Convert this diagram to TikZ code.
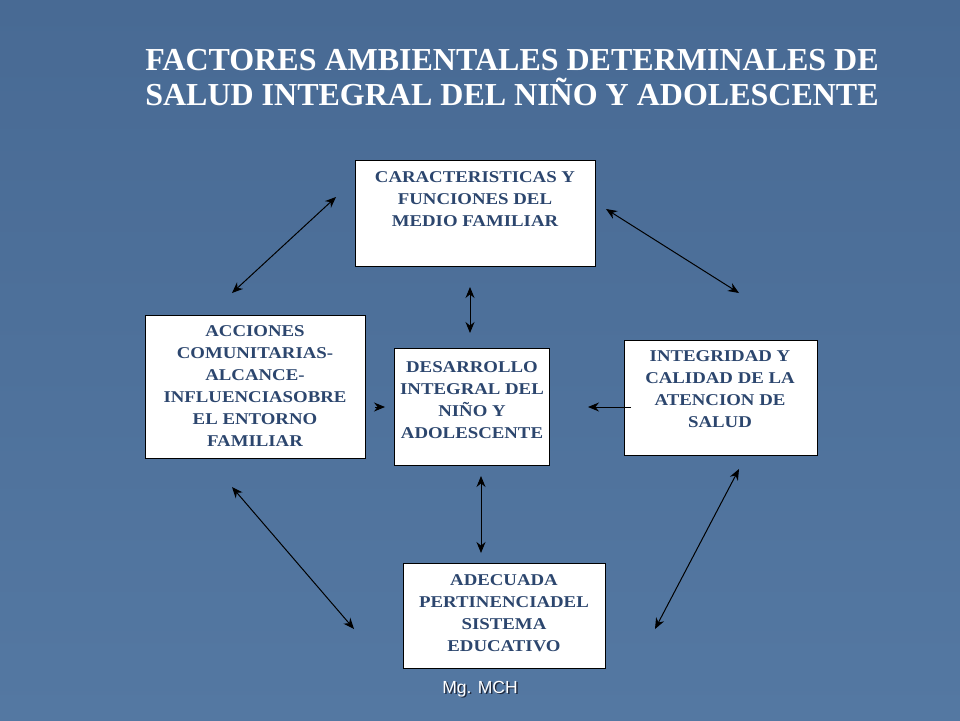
\documentclass[tikz,border=0pt]{standalone}
\usepackage{fontspec}
\setmainfont{Liberation Serif}
\newfontfamily\boxfont{Liberation Serif}[FakeStretch=1.14]
\newfontfamily\footfont{Liberation Sans}
\usetikzlibrary{arrows.meta}
\definecolor{bgtop}{RGB}{72,106,148}
\definecolor{bgbot}{RGB}{84,120,162}
\definecolor{boxtext}{RGB}{44,70,110}
\definecolor{shadowc}{RGB}{30,40,60}
\tikzset{
  box/.style={draw=black, line width=1pt, fill=white, inner sep=0pt},
  boxtxt/.style={text=boxtext, align=center, inner sep=0pt,
    font=\boxfont\bfseries\fontsize{16.5}{22}\selectfont},
  tip/.style={Stealth[length=11pt,width=9pt]},
  link/.style={line width=1pt, {Stealth[length=11pt,width=9pt]}-{Stealth[length=11pt,width=9pt]}},
  onelink/.style={line width=1pt, -{Stealth[length=11pt,width=9pt]}},
}
\begin{document}
\begin{tikzpicture}[x=1pt,y=-1pt]
\shade[top color=bgtop, bottom color=bgbot] (0,0) rectangle (960,720);
\useasboundingbox (0,0) rectangle (960,720);

% title
\node[text=white, align=center, inner sep=0pt,
  font=\bfseries\fontsize{32}{35}\selectfont] (title) at (512,77.5)
  {FACTORES AMBIENTALES DETERMINALES DE\\SALUD INTEGRAL DEL NIÑO Y ADOLESCENTE};

% boxes
\node[box, minimum width=240, minimum height=106] (fam) at (475,213) {};
\node[box, minimum width=220, minimum height=143] (com) at (255,386.5) {};
\node[box, minimum width=155, minimum height=117] (des) at (471.5,406.5) {};
\node[box, minimum width=193, minimum height=115] (sal) at (720.5,397.5) {};
\node[box, minimum width=202, minimum height=105] (edu) at (504,615.5) {};

\node[boxtxt] (famt) at (475,199.5) {CARACTERISTICAS Y\\FUNCIONES DEL\\MEDIO FAMILIAR};
\node[boxtxt] (comt) at (255,386) {ACCIONES\\COMUNITARIAS-\\ALCANCE-\\INFLUENCIASOBRE\\EL ENTORNO\\FAMILIAR};
\node[boxtxt] (dest) at (472,400) {DESARROLLO\\INTEGRAL DEL\\NIÑO Y\\ADOLESCENTE};
\node[boxtxt] (salt) at (720,389.5) {INTEGRIDAD Y\\CALIDAD DE LA\\ATENCION DE\\SALUD};
\node[boxtxt] (edut) at (504,613) {ADECUADA\\PERTINENCIADEL\\SISTEMA\\EDUCATIVO};

% arrow end points
\coordinate (a1) at (232,293); \coordinate (a2) at (336,197);
\coordinate (b1) at (606,209); \coordinate (b2) at (739,293);
\coordinate (c1) at (470,287); \coordinate (c2) at (470,333);
\coordinate (d1) at (375,407); \coordinate (d2) at (385,407);
\coordinate (e1) at (631,407); \coordinate (e2) at (588,407);
\coordinate (f1) at (481,476); \coordinate (f2) at (481,553);
\coordinate (g1) at (232,487); \coordinate (g2) at (354,629);
\coordinate (h1) at (739,469); \coordinate (h2) at (655,629);

\draw[link] (a1) -- (a2);
\draw[link] (b1) -- (b2);
\draw[link] (c1) -- (c2);
\draw[onelink] (d1) -- (d2);
\draw[onelink] (e1) -- (e2);
\draw[link] (f1) -- (f2);
\draw[link] (g1) -- (g2);
\draw[link] (h1) -- (h2);

% footer
\node[text=shadowc, inner sep=0pt, font=\footfont\fontsize{17.5}{20}\selectfont] (footsh) at (481.5,690.5) {Mg. MCH};
\node[text=white, inner sep=0pt, font=\footfont\fontsize{17.5}{20}\selectfont] (foot) at (480,689) {Mg. MCH};
\end{tikzpicture}
\end{document}
